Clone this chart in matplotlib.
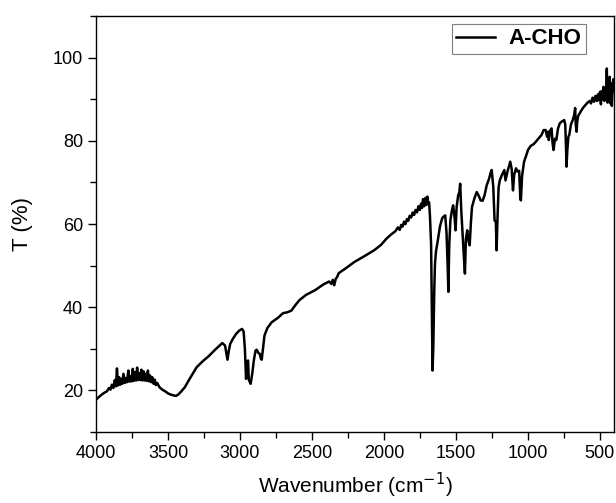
import matplotlib.pyplot as plt
from matplotlib.ticker import MultipleLocator

plt.rcParams['font.family'] = ['Liberation Sans', 'DejaVu Sans']

# FTIR spectrum of A-CHO, wavenumber (cm-1) vs transmittance (%)
wavenumber = [
    4000, 3975, 3950, 3925, 3910, 3900, 3890, 3880, 3870, 3862, 3855, 3848,
    3840, 3832, 3825, 3818, 3810, 3800, 3792, 3785, 3776, 3768, 3760, 3752,
    3745, 3738, 3730, 3722, 3715, 3708, 3700, 3692, 3685, 3678, 3670, 3662,
    3655, 3648, 3640, 3632, 3625, 3618, 3610, 3600, 3592, 3585, 3575, 3560,
    3540, 3520, 3500, 3480, 3460, 3445, 3430, 3410, 3383, 3350, 3301, 3260,
    3219, 3170, 3123, 3104, 3095, 3087, 3078, 3068, 3050, 3027, 3005, 2986,
    2975, 2966, 2958, 2950, 2944, 2939, 2926, 2915, 2904, 2892, 2884, 2872,
    2862, 2855, 2849, 2840, 2830, 2810, 2780, 2760, 2739, 2700, 2671, 2643,
    2620, 2588, 2540, 2479, 2420, 2380, 2365, 2355, 2345, 2335, 2325, 2314,
    2260, 2205, 2140, 2068, 2020, 1985, 1950, 1920, 1903, 1890, 1880, 1870,
    1860, 1850, 1840, 1830, 1821, 1810, 1800, 1790, 1780, 1770, 1760, 1750,
    1742, 1735, 1728, 1720, 1712, 1705, 1698, 1692, 1686, 1680, 1672, 1666,
    1662, 1657, 1650, 1645, 1638, 1629, 1610, 1595, 1588, 1574, 1565, 1557,
    1552, 1546, 1538, 1528, 1519, 1510, 1502, 1495, 1484, 1476, 1470, 1462,
    1451, 1444, 1437, 1430, 1421, 1412, 1404, 1396, 1388, 1370, 1355, 1341,
    1328, 1314, 1300, 1286, 1270, 1258, 1251, 1240, 1231, 1222, 1217, 1210,
    1203, 1195, 1180, 1163, 1155, 1140, 1122, 1112, 1103, 1095, 1082, 1070,
    1060, 1052, 1048, 1040, 1026, 1010, 999, 980, 960, 944, 925, 905,
    890, 876, 866, 858, 854, 846, 835, 828, 821, 812, 802, 790,
    778, 766, 756, 747, 740, 735, 731, 725, 718, 712, 700, 688,
    678, 671, 667, 661, 657, 650, 640, 630, 615, 600, 585, 570,
    561, 550, 540, 530, 520, 512, 506, 498, 492, 486, 480, 474,
    468, 462, 456, 451, 446, 441, 436, 431, 426, 421, 416, 411,
    406, 400,
]
transmittance = [
    17.8, 18.6, 19.3, 19.8, 20.6, 20.2, 21.4, 20.6, 22.5, 21.0, 25.3, 21.2,
    23.2, 21.4, 22.8, 21.6, 24.0, 21.8, 23.0, 22.0, 24.8, 22.1, 23.5, 22.2,
    25.2, 22.3, 24.4, 22.4, 25.5, 22.5, 24.2, 22.5, 25.0, 22.4, 24.6, 22.4,
    24.0, 22.3, 24.8, 22.2, 23.6, 22.0, 23.2, 21.6, 22.6, 21.3, 21.8, 20.8,
    20.2, 19.8, 19.3, 19.0, 18.8, 18.7, 19.0, 19.7, 20.8, 22.8, 25.6, 27.0,
    28.2, 29.9, 31.4, 30.8, 29.0, 27.4, 29.5, 31.2, 32.4, 33.6, 34.4, 34.8,
    34.2, 30.0, 22.8, 26.8, 27.2, 22.6, 21.6, 24.0, 27.2, 29.6, 29.8, 29.0,
    28.8, 27.6, 27.4, 30.2, 33.2, 35.0, 36.4, 36.9, 37.4, 38.6, 38.8, 39.2,
    40.3, 41.7, 43.0, 44.1, 45.5, 46.2, 45.6, 46.6, 45.3, 46.8, 47.3, 48.2,
    49.5, 50.9, 52.2, 53.7, 55.0, 56.4, 57.5, 58.3, 59.2, 58.6, 59.8, 59.4,
    60.6, 60.0, 61.2, 60.8, 62.0, 61.6, 62.8, 62.2, 63.4, 62.8, 64.3, 63.4,
    64.9, 63.9, 66.0, 64.3, 66.3, 64.6, 66.6, 64.8, 65.2, 62.0, 55.0, 38.0,
    24.8, 30.0, 44.0, 50.5, 53.5, 55.3, 59.5, 61.4, 61.7, 62.1, 58.0, 50.0,
    43.7, 55.0, 60.9, 63.2, 64.5, 62.0, 58.5, 64.0, 66.9, 67.6, 69.7, 63.0,
    56.1, 52.0, 48.1, 56.5, 58.5, 56.0, 54.9, 60.0, 64.1, 66.3, 67.7, 66.8,
    65.7, 65.6, 67.0, 69.3, 70.8, 72.4, 73.0, 69.0, 60.9, 60.5, 53.7, 62.0,
    68.8, 70.5, 71.8, 73.0, 70.5, 72.8, 75.0, 73.2, 68.1, 71.8, 73.4, 72.6,
    72.8, 66.0, 65.7, 71.5, 75.0, 76.6, 77.8, 78.8, 79.2, 79.8, 80.6, 81.4,
    82.6, 82.6, 81.0, 82.2, 80.2, 82.4, 83.0, 79.5, 77.8, 80.5, 80.2, 83.0,
    84.2, 84.6, 84.8, 85.0, 84.0, 79.0, 73.8, 78.0, 81.0, 81.4, 84.0, 85.0,
    86.2, 87.9, 84.0, 82.2, 84.5, 86.0, 86.6, 87.2, 88.0, 88.6, 89.2, 89.6,
    89.0, 90.4, 89.4, 90.8, 89.6, 91.2, 89.8, 91.8, 88.8, 92.0, 90.0, 93.0,
    89.6, 92.6, 90.4, 97.4, 89.2, 93.6, 90.2, 95.4, 89.0, 93.8, 88.4, 92.4,
    94.8, 92.0,
]

fig = plt.figure(figsize=(6.16, 5.03), dpi=100)
ax = fig.add_axes([0.156, 0.141, 0.841, 0.827])

ax.plot(wavenumber, transmittance, color='black', linewidth=1.8, label='A-CHO')

ax.set_xlim(4000, 400)
ax.set_ylim(10, 110)
ax.xaxis.set_major_locator(MultipleLocator(500))
ax.xaxis.set_minor_locator(MultipleLocator(250))
ax.yaxis.set_major_locator(MultipleLocator(20))
ax.yaxis.set_minor_locator(MultipleLocator(10))
ax.tick_params(which='major', direction='out', length=6, width=1.0,
               labelsize=13, top=False, right=False)
ax.tick_params(which='minor', direction='out', length=4, width=1.0,
               top=False, right=False)
for sp in ax.spines.values():
    sp.set_linewidth(1.0)

ax.set_xlabel('Wavenumber (cm$^{-1}$)', fontsize=15, labelpad=6)
ax.set_ylabel('T (%)', fontsize=16, labelpad=14)

leg = ax.legend(loc='upper right', bbox_to_anchor=(0.954, 0.992), fancybox=False,
                edgecolor='#7f7f7f', framealpha=1, handlelength=1.75,
                prop={'weight': 'bold', 'size': 16}, borderpad=0.2,
                handletextpad=0.6, borderaxespad=0.2)
leg.get_frame().set_linewidth(0.8)

fig.savefig('out.png', dpi=100)
